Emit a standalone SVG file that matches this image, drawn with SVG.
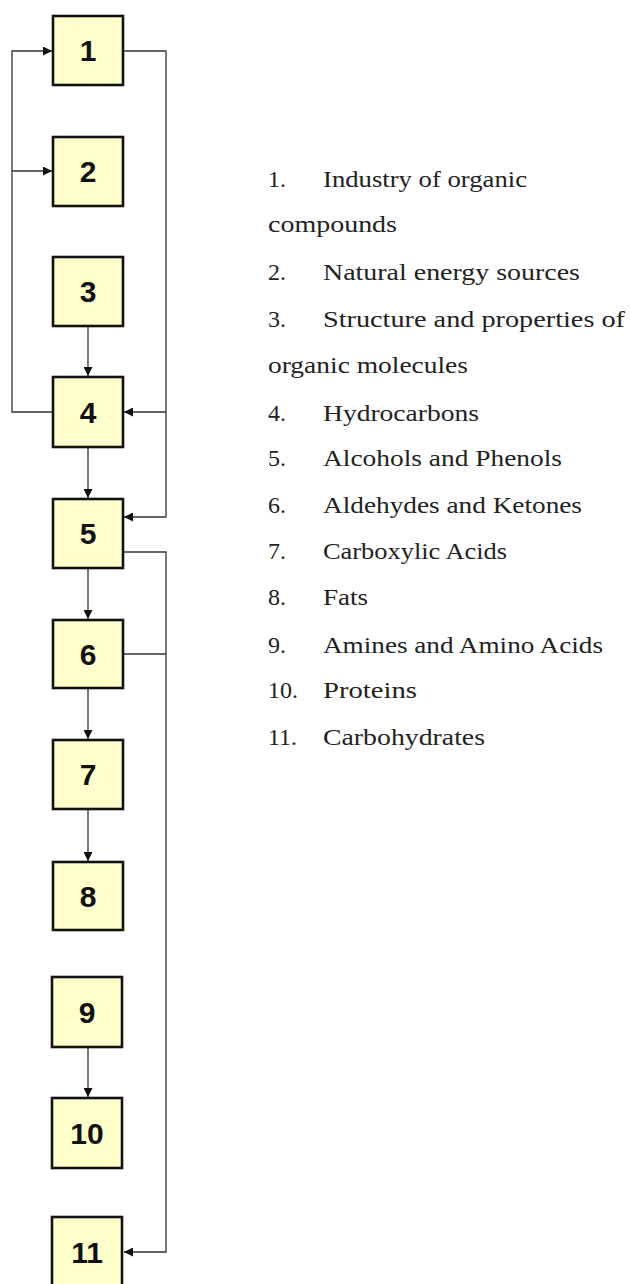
<svg xmlns="http://www.w3.org/2000/svg" width="630" height="1284" viewBox="0 0 630 1284">
<style>
.box{fill:#FFFFCC;stroke:#111;stroke-width:2.6}
.num{font-family:"Liberation Sans",Arial,sans-serif;font-weight:bold;font-size:30px;fill:#111;text-anchor:middle}
.ln{fill:none;stroke:#333;stroke-width:1.3}
.lt{font-family:"Liberation Serif","Times New Roman",serif;font-size:24px;fill:#222}
</style>
<defs>
<marker id="ah" viewBox="0 0 10 10" refX="10" refY="5" markerWidth="9" markerHeight="9" markerUnits="userSpaceOnUse" orient="auto">
<path d="M0,0 L10,5 L0,10 Z" fill="#111"/>
</marker>
</defs>
<rect width="630" height="1284" fill="#fff"/>
<g id="connectors">
<path class="ln" d="M53,412 H12 V51 H52" marker-end="url(#ah)"/>
<path class="ln" d="M12,171 H52" marker-end="url(#ah)"/>
<path class="ln" d="M123,51 H166 V517 H124" marker-end="url(#ah)"/>
<path class="ln" d="M166,412 H124" marker-end="url(#ah)"/>
<path class="ln" d="M123,552 H166 V1252 H124" marker-end="url(#ah)"/>
<path class="ln" d="M123,654 H166"/>
<path class="ln" d="M88,326 V376" marker-end="url(#ah)"/>
<path class="ln" d="M88,447 V498" marker-end="url(#ah)"/>
<path class="ln" d="M88,568 V619" marker-end="url(#ah)"/>
<path class="ln" d="M88,688 V739" marker-end="url(#ah)"/>
<path class="ln" d="M88,809 V861" marker-end="url(#ah)"/>
<path class="ln" d="M88,1047 V1097" marker-end="url(#ah)"/>
</g>
<g id="n1"><rect class="box" x="53" y="16" width="70" height="69"/><text class="num" x="88" y="61">1</text></g>
<g id="n2"><rect class="box" x="53" y="137" width="70" height="69"/><text class="num" x="88" y="182">2</text></g>
<g id="n3"><rect class="box" x="53" y="257" width="70" height="69"/><text class="num" x="88" y="302">3</text></g>
<g id="n4"><rect class="box" x="53" y="377" width="70" height="70"/><text class="num" x="88" y="423">4</text></g>
<g id="n5"><rect class="box" x="53" y="499" width="70" height="69"/><text class="num" x="88" y="544">5</text></g>
<g id="n6"><rect class="box" x="53" y="620" width="70" height="68"/><text class="num" x="88" y="665">6</text></g>
<g id="n7"><rect class="box" x="53" y="740" width="70" height="69"/><text class="num" x="88" y="785">7</text></g>
<g id="n8"><rect class="box" x="53" y="862" width="70" height="68"/><text class="num" x="88" y="907">8</text></g>
<g id="n9"><rect class="box" x="52" y="977" width="70" height="70"/><text class="num" x="87" y="1023">9</text></g>
<g id="n10"><rect class="box" x="52" y="1098" width="70" height="70"/><text class="num" x="87" y="1144">10</text></g>
<g id="n11"><rect class="box" x="52" y="1217" width="70" height="72"/><text class="num" x="87" y="1263">11</text></g>
<g id="legend">
<text class="lt" x="268" y="187">1.</text><text class="lt" x="323" y="187" textLength="204" lengthAdjust="spacingAndGlyphs">Industry of organic</text>
<text class="lt" x="268" y="232" textLength="129" lengthAdjust="spacingAndGlyphs">compounds</text>
<text class="lt" x="268" y="280">2.</text><text class="lt" x="323" y="280" textLength="257" lengthAdjust="spacingAndGlyphs">Natural energy sources</text>
<text class="lt" x="268" y="327">3.</text><text class="lt" x="323" y="327" textLength="302" lengthAdjust="spacingAndGlyphs">Structure and properties of</text>
<text class="lt" x="268" y="373" textLength="200" lengthAdjust="spacingAndGlyphs">organic molecules</text>
<text class="lt" x="268" y="421">4.</text><text class="lt" x="323" y="421" textLength="156" lengthAdjust="spacingAndGlyphs">Hydrocarbons</text>
<text class="lt" x="268" y="466">5.</text><text class="lt" x="323" y="466" textLength="239" lengthAdjust="spacingAndGlyphs">Alcohols and Phenols</text>
<text class="lt" x="268" y="513">6.</text><text class="lt" x="323" y="513" textLength="259" lengthAdjust="spacingAndGlyphs">Aldehydes and Ketones</text>
<text class="lt" x="268" y="559">7.</text><text class="lt" x="323" y="559" textLength="184" lengthAdjust="spacingAndGlyphs">Carboxylic Acids</text>
<text class="lt" x="268" y="605">8.</text><text class="lt" x="323" y="605" textLength="45" lengthAdjust="spacingAndGlyphs">Fats</text>
<text class="lt" x="268" y="653">9.</text><text class="lt" x="323" y="653" textLength="280" lengthAdjust="spacingAndGlyphs">Amines and Amino Acids</text>
<text class="lt" x="268" y="698">10.</text><text class="lt" x="323" y="698" textLength="94" lengthAdjust="spacingAndGlyphs">Proteins</text>
<text class="lt" x="268" y="745">11.</text><text class="lt" x="323" y="745" textLength="162" lengthAdjust="spacingAndGlyphs">Carbohydrates</text>
</g>
</svg>
